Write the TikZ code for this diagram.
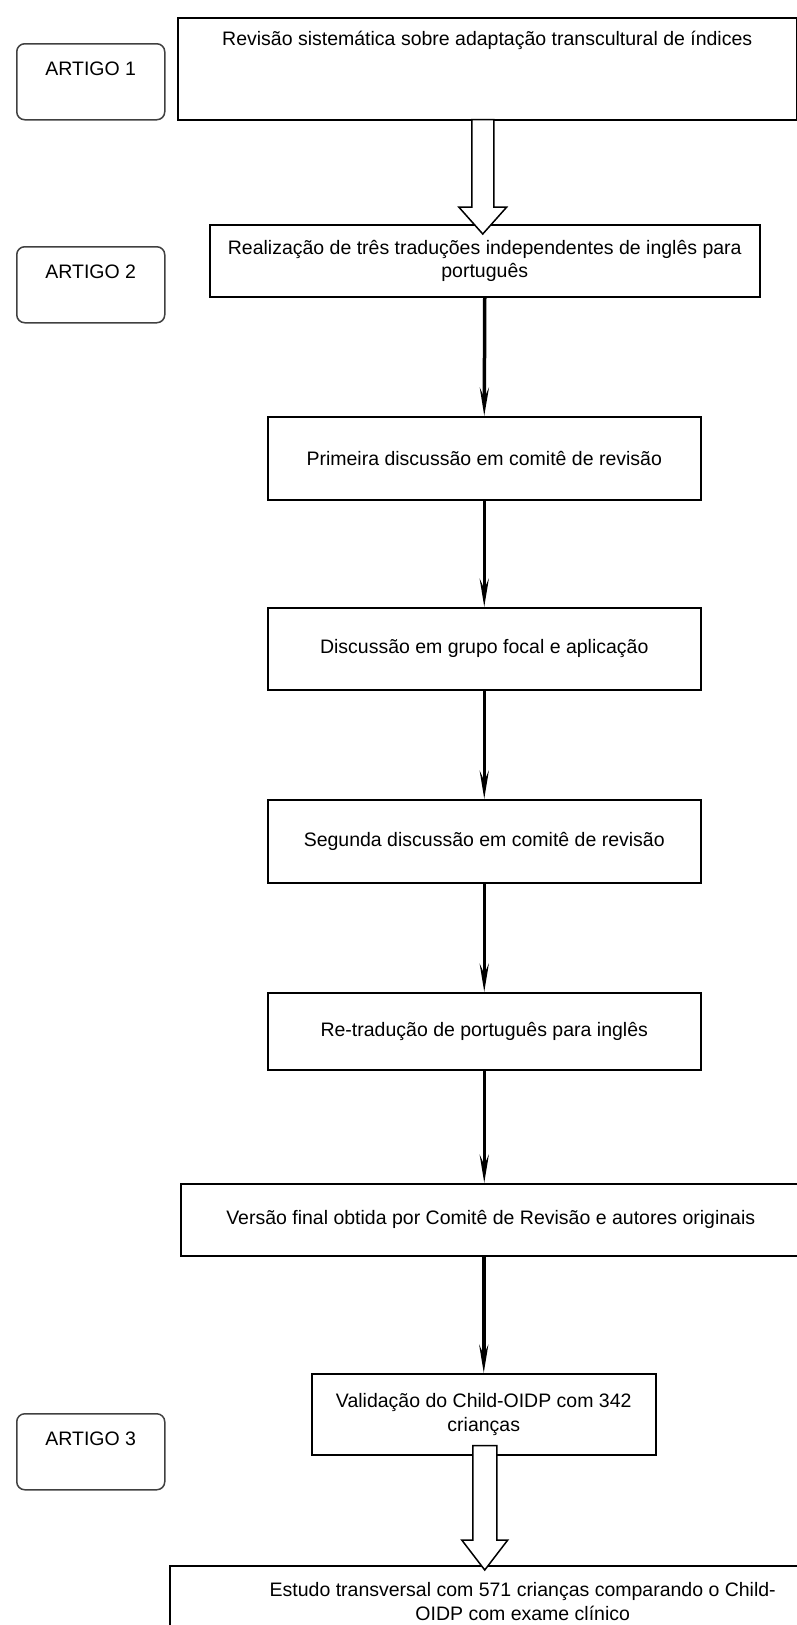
\documentclass[tikz,border=0pt]{standalone}
\usepackage{fontspec}
\setmainfont{Liberation Sans}
\usetikzlibrary{arrows.meta,calc}

\tikzset{
  stage/.style={draw, line width=1.5pt, align=center, inner sep=0pt, anchor=north west,
    font=\fontsize{19.5}{23.5}\selectfont},
  artigo/.style={draw=black!75, line width=1.5pt, rounded corners=8pt, anchor=north west,
    minimum width=148pt, inner xsep=0pt, inner ysep=18pt, text height=14pt, text depth=26pt,
    font=\fontsize{19.5}{23.5}\selectfont},
  flow/.style={line width=3.5pt, -{Stealth[length=28pt,width=9pt,inset=10pt]}},
  hollow/.style={draw, line width=1.5pt, fill=white, line join=miter}
}

\begin{document}
\begin{tikzpicture}[x=1pt,y=-1pt]
\useasboundingbox (0,0) rectangle (797,1625);
%----articles------------------------------------
\node[artigo] (art1) at (16,43) {ARTIGO 1};
\node[artigo] (art2) at (16,246) {ARTIGO 2};
\node[artigo] (art3) at (16,1413) {ARTIGO 3};
%----steps---------------------------------------
\node[stage, minimum width=619pt, inner ysep=14pt, text height=14pt, text depth=60pt] (rev) at (177,17)
    {Revisão sistemática sobre adaptação transcultural de índices};
\node[stage, minimum width=550pt, minimum height=72pt] (trad) at (209,224)
    {Realização de três traduções independentes de inglês para\\português};
\node[stage, minimum width=433pt, minimum height=83pt] (prim) at (267,416)
    {Primeira discussão em comitê de revisão};
\node[stage, minimum width=433pt, minimum height=82pt] (grupo) at (267,607)
    {Discussão em grupo focal e aplicação};
\node[stage, minimum width=433pt, minimum height=83pt] (seg) at (267,799)
    {Segunda discussão em comitê de revisão};
\node[stage, minimum width=433pt, minimum height=77pt] (retrad) at (267,992)
    {Re-tradução de português para inglês};
\node[stage, minimum width=620pt, minimum height=72pt] (final) at (180,1183)
    {Versão final obtida por Comitê de Revisão e autores originais};
\node[stage, minimum width=344pt, minimum height=81pt] (valid) at (311,1373)
    {Validação do Child-OIDP com 342\\crianças};
\node[stage, minimum width=706pt, minimum height=72pt] (estudo) at (169,1565)
    {Estudo transversal com 571 crianças comparando o Child-\\OIDP com exame clínico};
%----black arrows--------------------------------
\draw[flow] (trad.south) -- (prim.north);
\draw[flow] (prim.south) -- (grupo.north);
\draw[flow] (grupo.south) -- (seg.north);
\draw[flow] (seg.south) -- (retrad.north);
\draw[flow] (retrad.south) -- (final.north -| retrad.south);
\draw[flow] (final.south -| valid.north) -- (valid.north);
%----hollow arrows-------------------------------
\coordinate (tip1) at ($(trad.north)+(-2,10)$);
\coordinate (top1) at (tip1 |- rev.south);
\draw[hollow] (tip1) -- ++(24,-27) -- ++(-13,0) -- ($(top1)+(11,-1)$)
    -- ($(top1)+(-11,-1)$) -- ($(tip1)+(-11,-27)$) -- ++(-13,0) -- cycle;
\coordinate (tip2) at ($(estudo.north -| valid.south)+(1,5)$);
\coordinate (top2) at ($(tip2 |- valid.south)+(0,-10)$);
\draw[hollow] (tip2) -- ++(23,-30) -- ++(-11,0) -- ($(top2)+(12,0)$)
    -- ($(top2)+(-12,0)$) -- ($(tip2)+(-12,-30)$) -- ++(-11,0) -- cycle;
\end{tikzpicture}
\end{document}
